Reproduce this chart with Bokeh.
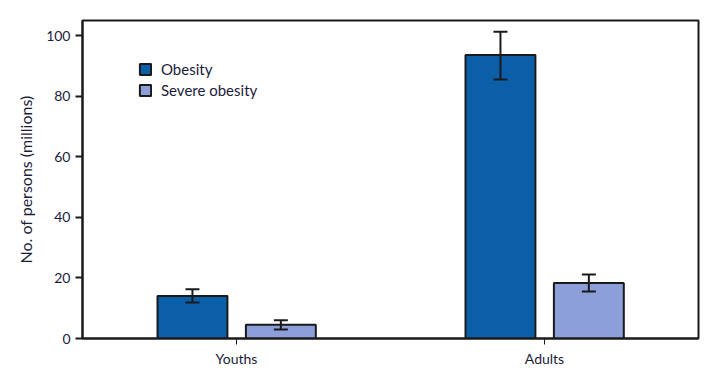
from bokeh.plotting import figure
from bokeh.models import ColumnDataSource, Range1d, FactorRange, Whisker, TeeHead, Legend, LegendItem
from bokeh.transform import dodge
from bokeh.embed import file_html
from bokeh.resources import INLINE

groups = ["Youths", "Adults"]
obesity = [14.0, 93.6]
obesity_lo = [11.9, 85.5]
obesity_hi = [16.3, 101.3]
severe = [4.5, 18.3]
severe_lo = [3.0, 15.5]
severe_hi = [6.0, 21.1]
yticks = [0, 20, 40, 60, 80, 100]

src = ColumnDataSource(data=dict(
    g=groups, ob=obesity, ob_lo=obesity_lo, ob_hi=obesity_hi,
    sv=severe, sv_lo=severe_lo, sv_hi=severe_hi,
))

FONT = "Lato"
TXT = "#1c1c3c"

p = figure(width=716, height=380, x_range=FactorRange(factors=groups, range_padding=0),
           y_range=Range1d(0, 105), output_backend="svg", toolbar_location=None,
           min_border_left=82, min_border_right=18, min_border_top=20, min_border_bottom=42)

r1 = p.vbar(x=dodge("g", -0.143, range=p.x_range), top="ob", width=0.227, source=src,
            fill_color="#0a5fa8", line_color="#1a1a1a", line_width=2)
r2 = p.vbar(x=dodge("g", 0.144, range=p.x_range), top="sv", width=0.227, source=src,
            fill_color="#8d9fd8", line_color="#1a1a1a", line_width=2)

for off, lo, hi in [(-0.143, "ob_lo", "ob_hi"), (0.144, "sv_lo", "sv_hi")]:
    w = Whisker(base=dodge("g", off, range=p.x_range), lower=lo, upper=hi, source=src,
                line_color="#1a1a1a", line_width=2, level="overlay",
                lower_head=TeeHead(size=14, line_width=2, line_color="#1a1a1a"),
                upper_head=TeeHead(size=14, line_width=2, line_color="#1a1a1a"))
    p.add_layout(w)

legend = Legend(items=[LegendItem(label="Obesity", renderers=[r1]),
                       LegendItem(label="Severe obesity", renderers=[r2])],
                location=(56, 239), glyph_width=14, glyph_height=14, label_text_font=FONT,
                label_text_font_size="15px", label_text_color=TXT, border_line_color=None,
                background_fill_alpha=0, spacing=3, padding=0, margin=0, label_standoff=9,
                label_height=17)
p.add_layout(legend)

p.grid.grid_line_color = None
p.outline_line_color = "#1a1a1a"
p.outline_line_width = 2

p.yaxis.ticker = yticks
p.yaxis.axis_label = "No. of persons (millions)"
p.yaxis.axis_label_text_font = FONT
p.yaxis.axis_label_text_font_style = "normal"
p.yaxis.axis_label_text_font_size = "16px"
p.yaxis.axis_label_text_color = TXT
p.yaxis.axis_label_standoff = 8

for ax in (p.xaxis[0], p.yaxis[0]):
    ax.major_label_text_font = FONT
    ax.major_label_text_font_size = "14px"
    ax.major_label_text_color = TXT
    ax.axis_line_color = "#1a1a1a"
    ax.axis_line_width = 2
    ax.major_tick_line_color = "#1a1a1a"
    ax.major_tick_line_width = 1
    ax.minor_tick_line_color = None
    ax.major_tick_in = 0
p.yaxis.major_tick_out = 7
p.yaxis.major_tick_line_width = 2
p.xaxis.major_tick_out = 6
p.xaxis.major_label_standoff = 5

open("out.html", "w").write(file_html(p, INLINE))
